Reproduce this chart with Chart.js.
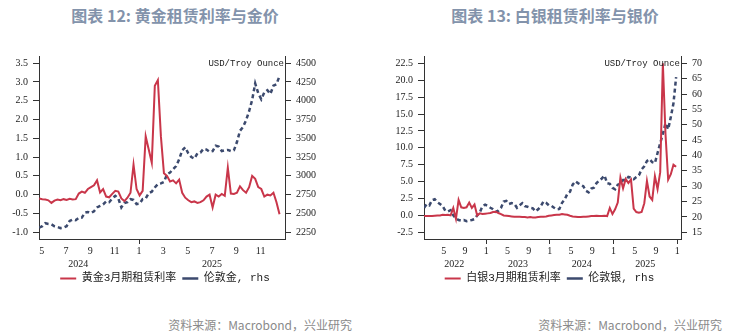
<!DOCTYPE html>
<html>
<head>
<meta charset="utf-8">
<script src="https://cdn.jsdelivr.net/npm/chart.js@4"></script>
<style>
  body { margin: 0; background: #fff; width: 739px; height: 335px; position: relative; overflow: hidden; font-family: "Noto Sans CJK SC", sans-serif; }
  .title { position: absolute; top: 3px; font-size: 16px; font-weight: bold; color: #8393ab; text-align: center; }
  .source { position: absolute; top: 316px; font-size: 12px; color: #8a8a8a; text-align: right; }
  canvas { position: absolute; top: 0; }
</style>
</head>
<body>
<div class="title" style="left:0;width:350px">图表 12: 黄金租赁利率与金价</div>
<div class="title" style="left:370px;width:370px">图表 13: 白银租赁利率与银价</div>
<canvas id="gold-chart" width="330" height="300" style="left:0"></canvas>
<canvas id="silver-chart" width="345" height="300" style="left:370px"></canvas>
<div class="source" style="left:0;width:352px">资料来源：Macrobond，兴业研究</div>
<div class="source" style="left:370px;width:352px">资料来源：Macrobond，兴业研究</div>
<script>
// x = months counted from January of the first year shown (weekly / half-monthly samples)
const goldStart = 3.8;
const goldStep = 0.25;
const goldLease = [
    -0.10, -0.12, -0.13, -0.15, -0.22, -0.16, -0.13, -0.15, -0.12, -0.14,
    -0.11, -0.13, -0.12, 0.03, 0.08, 0.05, 0.15, 0.20, 0.25, 0.38,
    0.06, 0.15, -0.05, -0.07, 0.02, 0.10, 0.08, -0.10, -0.17, -0.08,
    0.05, 0.80, 0.15, -0.02, 0.10, 1.55, 1.20, 0.85, 2.90, 3.05,
    1.55, 0.57, 0.50, 0.35, 0.38, 0.30, 0.40, 0.05, -0.08, -0.15,
    -0.20, -0.18, -0.22, -0.20, -0.15, -0.05, 0.00, -0.34, 0.00, -0.05,
    0.02, -0.03, 0.72, 0.03, 0.02, 0.05, 0.22, 0.12, 0.05, 0.20,
    0.50, 0.42, 0.20, 0.15, -0.05, 0.00, -0.02, 0.05, -0.20, -0.52,
];
const goldPrice = [
    2310, 2330, 2370, 2360, 2355, 2330, 2320, 2305, 2310, 2330,
    2400, 2420, 2410, 2440, 2445, 2510, 2520, 2505, 2530, 2580,
    2600, 2620, 2660, 2650, 2700, 2735, 2700, 2580, 2640, 2650,
    2690, 2680, 2625, 2630, 2690, 2700, 2770, 2790, 2845, 2890,
    2900, 2920, 3020, 3045, 3090, 3130, 3220, 3340, 3380, 3300,
    3250, 3230, 3300, 3310, 3360, 3350, 3320, 3330, 3400, 3390,
    3330, 3340, 3345, 3330, 3340, 3450, 3600, 3650, 3740, 3860,
    4010, 4230, 4100, 4020, 4110, 4140, 4090, 4200, 4220, 4330,
];
const goldMonthTicks = [4, 6, 8, 10, 12, 14, 16, 18, 20, 22];
const goldYears = ['2024', '2025'];
const goldYearAt = [7, 18];
const goldLeftTicks = [-1.0, -0.5, 0.0, 0.5, 1.0, 1.5, 2.0, 2.5, 3.0, 3.5];
const goldRightTicks = [2250, 2500, 2750, 3000, 3250, 3500, 3750, 4000, 4250, 4500];

const silverStart = 0.3;
const silverStep = 0.5;
const silverLease = [
    -0.1, -0.1, -0.1, -0.1, -0.05, 0.0, 0.0, 0.1, 0.05, 0.1,
    0.0, 1.1, -0.5, 2.3, 1.2, 1.1, 1.2, 1.9, 1.1, 1.6,
    0.0, 0.3, 0.2, 0.25, 0.3, 0.35, 0.5, 0.55, 0.35, 0.2,
    0.0, -0.05, -0.1, -0.15, -0.2, -0.2, -0.2, -0.25, -0.25, -0.3,
    -0.25, -0.3, -0.3, -0.25, -0.2, -0.2, -0.15, -0.05, 0.0, 0.05,
    0.1, 0.1, 0.2, 0.15, 0.1, -0.05, -0.15, -0.2, -0.25, -0.25,
    -0.2, -0.2, -0.15, -0.1, -0.1, -0.05, -0.1, -0.1, -0.05, -0.1,
    1.1, 0.2, 0.9, 1.9, 5.6, 4.0, 5.4, 4.8, 5.3, 1.0,
    0.5, 0.4, 0.5, 1.8, 5.1, 2.8, 2.3, 5.8, 3.9, 6.4,
    22.5, 12.0, 5.3, 6.1, 7.5, 7.2,
];
const silverPrice = [
    23.0, 24.2, 23.8, 25.5, 25.8, 24.8, 24.2, 23.5, 22.0, 21.8,
    22.2, 20.5, 19.5, 19.0, 18.8, 19.0, 18.6, 18.8, 19.0, 19.3,
    20.5, 21.5, 23.5, 24.0, 23.6, 23.0, 22.5, 21.7, 22.0, 23.0,
    25.0, 25.2, 24.2, 24.5, 24.3, 23.0, 23.8, 24.5, 23.5, 23.3,
    23.0, 22.8, 21.8, 22.5, 23.5, 25.0, 24.6, 23.8, 23.6, 23.0,
    22.5, 22.6, 24.6, 25.7, 27.5, 28.2, 30.5, 31.6, 31.0, 30.5,
    30.0, 28.5, 28.0, 29.2, 29.5, 31.0, 31.8, 32.5, 33.5, 31.0,
    30.8, 29.5, 29.0, 30.5, 30.8, 32.0, 32.0, 33.0, 32.8, 32.3,
    33.0, 33.6, 35.5, 36.5, 38.2, 38.8, 37.8, 37.5, 40.8, 44.0,
    47.0, 50.5, 48.5, 52.5, 57.0, 65.5,
];
const silverMonthTicks = [4, 8, 12, 16, 20, 24, 28, 32, 36, 40, 44, 48];
const silverYears = ['2022', '2023', '2024', '2025'];
const silverYearAt = [6, 18, 30, 42];
const silverLeftTicks = [-2.5, 0.0, 2.5, 5.0, 7.5, 10.0, 12.5, 15.0, 17.5, 20.0, 22.5];
const silverRightTicks = [15, 20, 25, 30, 35, 40, 45, 50, 55, 60, 65, 70];

const RED = '#c9364a';
const NAVY = '#3c4a6e';
const AXIS = '#333333';
const tickFont = { family: '"Liberation Serif", "Times New Roman", serif', size: 10 };

function toPoints(values, start, step) {
    return values.map((v, i) => ({ x: start + i * step, y: v }));
}

const annotate = {
    id: 'annotate',
    afterDraw(chart, args, opts) {
        const { ctx, chartArea, scales } = chart;
        ctx.save();
        ctx.fillStyle = '#222';
        ctx.font = '10px "Liberation Serif", serif';
        ctx.textAlign = 'center';
        ctx.textBaseline = 'middle';
        opts.years.forEach((label, i) => {
            ctx.fillText(label, scales.x.getPixelForValue(opts.yearAt[i]), chartArea.bottom + 25);
        });
        ctx.font = '9px "Liberation Mono", monospace';
        ctx.textAlign = 'right';
        ctx.fillText('USD/Troy Ounce', chartArea.right - 1, scales.y1.getPixelForValue(opts.unitAt));
        ctx.restore();
    },
};

// legend: the dashed series gets a wider dash so it reads as "- -"
function legendLabels(chart) {
    const items = Chart.defaults.plugins.legend.labels.generateLabels(chart);
    items.forEach((item) => {
        if (item.lineDash && item.lineDash.length) {
            item.lineDash = [5, 6];
        }
    });
    return items;
}

function buildChart(canvasId, cfg) {
    return new Chart(document.getElementById(canvasId), {
        type: 'line',
        data: {
            datasets: [
                {
                    label: cfg.leaseLabel,
                    data: toPoints(cfg.lease, cfg.start, cfg.step),
                    borderColor: RED,
                    backgroundColor: RED,
                    borderWidth: 2,
                    pointRadius: 0,
                    pointStyle: 'line',
                    tension: 0,
                    yAxisID: 'y',
                },
                {
                    label: cfg.priceLabel,
                    data: toPoints(cfg.price, cfg.start, cfg.step),
                    borderColor: NAVY,
                    backgroundColor: NAVY,
                    borderWidth: 2.5,
                    borderDash: [4, 3],
                    pointRadius: 0,
                    pointStyle: 'line',
                    tension: 0,
                    yAxisID: 'y1',
                },
            ],
        },
        options: {
            responsive: false,
            animation: false,
            devicePixelRatio: 1,
            layout: { padding: { top: 56, bottom: 6, left: cfg.padLeft, right: 0 } },
            scales: {
                x: {
                    type: 'linear',
                    min: cfg.xMin,
                    max: cfg.xMax,
                    afterBuildTicks: (axis) => { axis.ticks = cfg.monthTicks.map((v) => ({ value: v })); },
                    afterFit: (axis) => { axis.height = 28; },
                    ticks: {
                        callback: (v) => String((v % 12) + 1),
                        font: tickFont,
                        color: '#222',
                        padding: 1,
                        maxRotation: 0,
                        autoSkip: false,
                    },
                    grid: {
                        drawOnChartArea: false,
                        tickLength: 5,
                        tickColor: (ctx) => (ctx.tick && ctx.tick.value % 12 === 0 ? AXIS : 'rgba(0,0,0,0)'),
                    },
                    border: { color: AXIS },
                },
                y: {
                    position: 'left',
                    min: cfg.leftMin,
                    max: cfg.leftMax,
                    afterBuildTicks: (axis) => { axis.ticks = cfg.leftTicks.map((v) => ({ value: v })); },
                    afterFit: (axis) => { axis.width = cfg.leftWidth; },
                    ticks: { callback: (v) => v.toFixed(1), font: tickFont, color: '#222', padding: 5, autoSkip: false },
                    grid: { drawOnChartArea: false, tickLength: 6, tickColor: AXIS },
                    border: { color: AXIS },
                },
                y1: {
                    position: 'right',
                    min: cfg.rightMin,
                    max: cfg.rightMax,
                    afterBuildTicks: (axis) => { axis.ticks = cfg.rightTicks.map((v) => ({ value: v })); },
                    afterFit: (axis) => { axis.width = cfg.rightWidth; },
                    ticks: { callback: (v) => String(v), font: tickFont, color: '#222', padding: 5, autoSkip: false },
                    grid: { drawOnChartArea: false, tickLength: 6, tickColor: AXIS },
                    border: { color: AXIS },
                },
            },
            plugins: {
                legend: {
                    position: 'bottom',
                    labels: {
                        usePointStyle: true,
                        pointStyleWidth: 16,
                        generateLabels: legendLabels,
                        font: { family: '"Liberation Mono", "Noto Sans CJK SC", monospace', size: 11 },
                        color: '#222',
                        padding: 6,
                    },
                },
                tooltip: { enabled: false },
                annotate: { years: cfg.years, yearAt: cfg.yearAt, unitAt: cfg.unitAt },
            },
        },
        plugins: [annotate],
    });
}

buildChart('gold-chart', {
    leaseLabel: '黄金3月期租赁利率',
    priceLabel: '伦敦金, rhs',
    lease: goldLease,
    price: goldPrice,
    start: goldStart,
    step: goldStep,
    xMin: 3.78,
    xMax: 24.0,
    monthTicks: goldMonthTicks,
    years: goldYears,
    yearAt: goldYearAt,
    leftMin: -1.18,
    leftMax: 3.69,
    leftTicks: goldLeftTicks,
    rightMin: 2160,
    rightMax: 4595,
    rightTicks: goldRightTicks,
    unitAt: 4500,
    padLeft: 0,
    leftWidth: 39,
    rightWidth: 45,
});

buildChart('silver-chart', {
    leaseLabel: '白银3月期租赁利率',
    priceLabel: '伦敦银, rhs',
    lease: silverLease,
    price: silverPrice,
    start: silverStart,
    step: silverStep,
    xMin: 0.28,
    xMax: 48.72,
    monthTicks: silverMonthTicks,
    years: silverYears,
    yearAt: silverYearAt,
    leftMin: -3.49,
    leftMax: 23.58,
    leftTicks: silverLeftTicks,
    rightMin: 12.82,
    rightMax: 72.38,
    rightTicks: silverRightTicks,
    unitAt: 70,
    padLeft: 14,
    leftWidth: 40,
    rightWidth: 34,
});
</script>
</body>
</html>
